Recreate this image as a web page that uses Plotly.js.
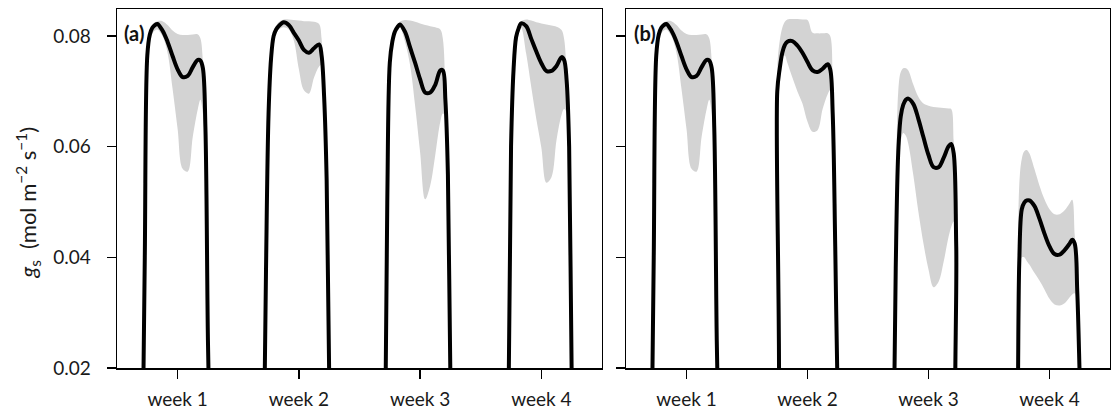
<!DOCTYPE html>
<html>
<head>
<meta charset="utf-8">
<script src="https://cdn.plot.ly/plotly-3.0.1.min.js"></script>
<style>
  html, body { margin: 0; padding: 0; background: #ffffff; }
  #chart { width: 1111px; height: 414px; }
</style>
</head>
<body>
<div id="chart"></div>
<script>
// Hour of day at which each daily stomatal conductance profile is sampled
const hourOfDay = [5, 5.5, 6, 6.5, 7, 7.5, 8, 9, 10, 11, 12, 13, 14, 15, 16, 16.5, 17, 17.5, 18, 18.5];

const weekLabels = ['week 1', 'week 2', 'week 3', 'week 4'];
const weekTickHours = [12, 36, 60, 84];
const yTickValues = [0.02, 0.04, 0.06, 0.08];
const yTickLabels = ['0.02', '0.04', '0.06', '0.08'];

// Panel (a): mean g_s and its lower / upper envelope, one row per week
const meanA = [
  [0, 0.040, 0.0765, 0.0803, 0.0815, 0.0820, 0.0822, 0.0810, 0.0790, 0.0764, 0.0740, 0.0726, 0.0728, 0.0744, 0.0757, 0.0756, 0.0742, 0.0635, 0.0250, 0],
  [0, 0.038, 0.0660, 0.0760, 0.0800, 0.0812, 0.0818, 0.0825, 0.0820, 0.0806, 0.0792, 0.0775, 0.0770, 0.0778, 0.0785, 0.0765, 0.0690, 0.0540, 0.0190, 0],
  [0, 0.050, 0.0752, 0.0790, 0.0808, 0.0816, 0.0821, 0.0808, 0.0780, 0.0752, 0.0722, 0.0698, 0.0698, 0.0712, 0.0738, 0.0738, 0.0685, 0.0550, 0.0180, 0],
  [0, 0.014, 0.0600, 0.0740, 0.0798, 0.0814, 0.0823, 0.0818, 0.0795, 0.0772, 0.0751, 0.0737, 0.0737, 0.0746, 0.0762, 0.0757, 0.0720, 0.0600, 0.0190, 0]
];
const lowA = [
  [0, 0.038, 0.0750, 0.0790, 0.0805, 0.0810, 0.0812, 0.0800, 0.0770, 0.0705, 0.0632, 0.0560, 0.0555, 0.0618, 0.0668, 0.0685, 0.0660, 0.0580, 0.0220, 0],
  [0, 0.036, 0.0645, 0.0750, 0.0790, 0.0805, 0.0812, 0.0816, 0.0812, 0.0792, 0.0740, 0.0702, 0.0696, 0.0725, 0.0745, 0.0748, 0.0670, 0.0520, 0.0180, 0],
  [0, 0.048, 0.0745, 0.0785, 0.0803, 0.0812, 0.0815, 0.0790, 0.0748, 0.0675, 0.0590, 0.0505, 0.0530, 0.0585, 0.0645, 0.0660, 0.0655, 0.0530, 0.0170, 0],
  [0, 0.012, 0.0585, 0.0735, 0.0793, 0.0808, 0.0815, 0.0768, 0.0708, 0.0650, 0.0598, 0.0535, 0.0545, 0.0612, 0.0658, 0.0668, 0.0662, 0.0580, 0.0180, 0]
];
const highA = [
  [0, 0.042, 0.0790, 0.0812, 0.0820, 0.0825, 0.0827, 0.0827, 0.0820, 0.0810, 0.0804, 0.0802, 0.0802, 0.0803, 0.0803, 0.0796, 0.0755, 0.0640, 0.0255, 0],
  [0, 0.040, 0.0675, 0.0770, 0.0805, 0.0818, 0.0825, 0.0830, 0.0830, 0.0829, 0.0828, 0.0827, 0.0827, 0.0826, 0.0822, 0.0795, 0.0700, 0.0550, 0.0200, 0],
  [0, 0.052, 0.0762, 0.0797, 0.0813, 0.0822, 0.0826, 0.0829, 0.0828, 0.0826, 0.0823, 0.0820, 0.0818, 0.0816, 0.0812, 0.0795, 0.0700, 0.0560, 0.0185, 0],
  [0, 0.016, 0.0615, 0.0750, 0.0805, 0.0820, 0.0827, 0.0830, 0.0828, 0.0825, 0.0823, 0.0821, 0.0819, 0.0817, 0.0811, 0.0795, 0.0730, 0.0605, 0.0195, 0]
];

// Panel (b): same layout of rows
const meanB = [
  [0, 0.040, 0.0765, 0.0803, 0.0815, 0.0820, 0.0822, 0.0810, 0.0790, 0.0764, 0.0740, 0.0726, 0.0728, 0.0744, 0.0757, 0.0756, 0.0742, 0.0635, 0.0250, 0],
  [0, 0, 0.0700, 0.0742, 0.0770, 0.0784, 0.0790, 0.0791, 0.0783, 0.0770, 0.0753, 0.0738, 0.0735, 0.0741, 0.0749, 0.0740, 0.0660, 0.0420, 0.0140, 0],
  [0, 0.038, 0.0590, 0.0655, 0.0676, 0.0685, 0.0687, 0.0677, 0.0650, 0.0617, 0.0585, 0.0563, 0.0563, 0.0580, 0.0601, 0.0605, 0.0588, 0.0420, 0, 0],
  [0, 0.005, 0.0390, 0.0487, 0.0499, 0.0503, 0.0503, 0.0493, 0.0470, 0.0443, 0.0420, 0.0406, 0.0405, 0.0413, 0.0425, 0.0432, 0.0425, 0.0340, 0.0180, 0]
];
const lowB = [
  [0, 0.038, 0.0750, 0.0790, 0.0805, 0.0810, 0.0812, 0.0800, 0.0770, 0.0705, 0.0632, 0.0560, 0.0555, 0.0618, 0.0668, 0.0685, 0.0660, 0.0580, 0.0220, 0],
  [0, 0, 0.0680, 0.0735, 0.0762, 0.0765, 0.0752, 0.0725, 0.0700, 0.0678, 0.0645, 0.0627, 0.0630, 0.0668, 0.0695, 0.0702, 0.0630, 0.0400, 0.0130, 0],
  [0, 0.036, 0.0565, 0.0610, 0.0625, 0.0620, 0.0605, 0.0548, 0.0482, 0.0425, 0.0378, 0.0346, 0.0356, 0.0392, 0.0438, 0.0455, 0.0465, 0.0400, 0, 0],
  [0, 0.003, 0.0350, 0.0400, 0.0400, 0.0393, 0.0387, 0.0372, 0.0358, 0.0342, 0.0325, 0.0315, 0.0313, 0.0317, 0.0328, 0.0333, 0.0335, 0.0300, 0.0170, 0]
];
const highB = [
  [0, 0.042, 0.0790, 0.0812, 0.0820, 0.0825, 0.0827, 0.0827, 0.0820, 0.0810, 0.0804, 0.0802, 0.0802, 0.0803, 0.0803, 0.0796, 0.0755, 0.0640, 0.0255, 0],
  [0, 0, 0.0740, 0.0792, 0.0815, 0.0826, 0.0830, 0.0831, 0.0831, 0.0830, 0.0829, 0.0806, 0.0805, 0.0805, 0.0805, 0.0800, 0.0700, 0.0460, 0.0150, 0],
  [0, 0.042, 0.0700, 0.0735, 0.0742, 0.0742, 0.0738, 0.0712, 0.0690, 0.0678, 0.0674, 0.0672, 0.0671, 0.0670, 0.0669, 0.0668, 0.0610, 0.0440, 0, 0],
  [0, 0.010, 0.0530, 0.0578, 0.0592, 0.0594, 0.0588, 0.0560, 0.0530, 0.0505, 0.0487, 0.0478, 0.0478, 0.0485, 0.0498, 0.0504, 0.0440, 0.0345, 0.0185, 0]
];

const FONT = 'Lato, "Open Sans", sans-serif';
const BAND_COLOR = '#d3d3d3';
const TEXT_COLOR = '#1a1a1a';

function panelTraces(means, lows, highs, xa, ya) {
  const bands = [];
  const lines = [];
  means.forEach((mean, w) => {
    const xs = hourOfDay.map(h => h + 24 * w);
    bands.push({
      x: xs.concat(xs.slice().reverse()),
      y: highs[w].concat(lows[w].slice().reverse()),
      xaxis: xa, yaxis: ya,
      type: 'scatter', mode: 'lines',
      fill: 'toself', fillcolor: BAND_COLOR,
      line: { width: 0, shape: 'spline', smoothing: 1 },
      hoverinfo: 'skip', showlegend: false
    });
    lines.push({
      x: xs, y: mean,
      xaxis: xa, yaxis: ya,
      type: 'scatter', mode: 'lines',
      line: { color: '#000000', width: 4, shape: 'spline', smoothing: 1 },
      hoverinfo: 'skip', showlegend: false
    });
  });
  return bands.concat(lines);
}

const data = panelTraces(meanA, lowA, highA, 'x', 'y')
  .concat(panelTraces(meanB, lowB, highB, 'x2', 'y2'));

const xCommon = {
  range: [0, 96],
  tickmode: 'array', tickvals: weekTickHours, ticktext: weekLabels,
  ticks: 'outside', ticklen: 9, tickwidth: 1.5, tickcolor: '#000',
  ticklabelstandoff: 5,
  showline: true, mirror: true, linecolor: '#000', linewidth: 1.5,
  showgrid: false, zeroline: false, fixedrange: true,
  tickfont: { family: FONT, size: 19, color: TEXT_COLOR }
};
const yCommon = {
  range: [0.02, 0.0849],
  tickmode: 'array', tickvals: yTickValues, ticktext: yTickLabels,
  ticks: 'outside', ticklen: 9, tickwidth: 1.5, tickcolor: '#000',
  ticklabelstandoff: 12,
  showline: true, mirror: true, linecolor: '#000', linewidth: 1.5,
  showgrid: false, zeroline: false, fixedrange: true,
  tickfont: { family: FONT, size: 19, color: TEXT_COLOR }
};

const layout = {
  width: 1111, height: 414,
  margin: { l: 117, r: 1, t: 9, b: 46, pad: 0 },
  paper_bgcolor: '#ffffff', plot_bgcolor: '#ffffff',
  showlegend: false,
  xaxis: Object.assign({}, xCommon, { domain: [0, 0.4884], anchor: 'y' }),
  yaxis: Object.assign({}, yCommon, { anchor: 'x' }),
  xaxis2: Object.assign({}, xCommon, { domain: [0.5126, 1], anchor: 'y2' }),
  yaxis2: Object.assign({}, yCommon, { anchor: 'x2', showticklabels: false }),
  annotations: [
    {
      text: '<i>g</i><sub>s</sub>  (mol m<sup>\u22122</sup> s<sup>\u22121</sup>)',
      xref: 'paper', yref: 'paper', x: -0.090, y: 0.46,
      xanchor: 'center', yanchor: 'middle', textangle: -90, showarrow: false,
      font: { family: FONT, size: 22, color: TEXT_COLOR }
    },
    {
      text: '<b>(a)</b>', xref: 'x domain', yref: 'y domain',
      x: 0.011, y: 0.934, xanchor: 'left', yanchor: 'middle', showarrow: false,
      font: { family: FONT, size: 20, color: '#111' }
    },
    {
      text: '<b>(b)</b>', xref: 'x2 domain', yref: 'y2 domain',
      x: 0.013, y: 0.934, xanchor: 'left', yanchor: 'middle', showarrow: false,
      font: { family: FONT, size: 20, color: '#111' }
    }
  ]
};

Plotly.newPlot('chart', data, layout, { displayModeBar: false, staticPlot: true });
</script>
</body>
</html>
